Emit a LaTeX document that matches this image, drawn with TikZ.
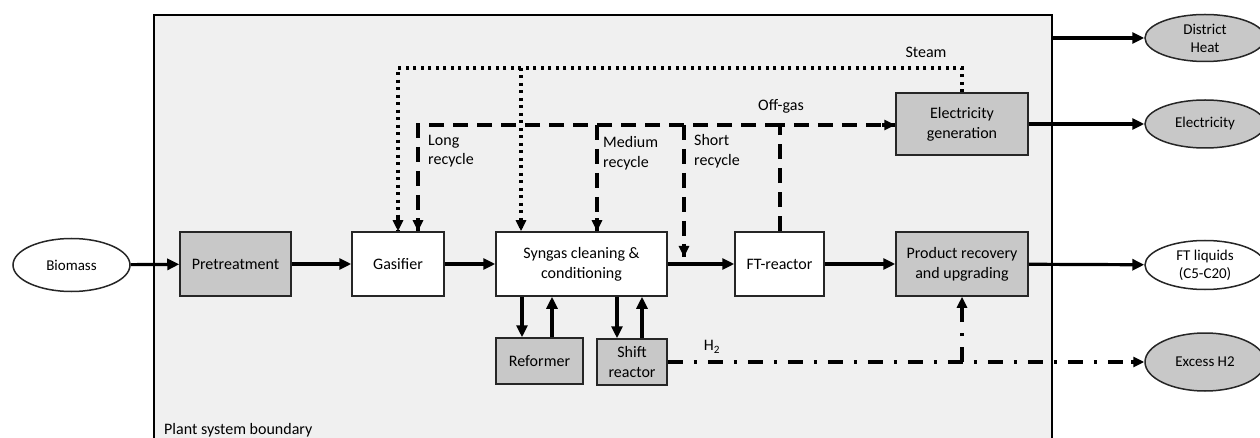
\documentclass[tikz,border=0pt]{standalone}
\usepackage{fontspec}
\setmainfont{Carlito}
\usetikzlibrary{arrows.meta,shapes.geometric}
\definecolor{bnd}{HTML}{F0F0F0}
\definecolor{boxgray}{HTML}{C8C8C8}
\tikzset{
  box/.style={draw=black!85,line width=1.5pt,fill=white,minimum height=64pt,inner sep=2pt,align=center,font=\fontsize{16}{20}\selectfont},
  graybox/.style={box,fill=boxgray},
  oval/.style={ellipse,draw=black!85,line width=1.5pt,fill=white,inner sep=0pt,minimum width=120pt,align=center,font=\fontsize{15}{18}\selectfont},
  lbl/.style={inner sep=0pt,align=left,font=\fontsize{16}{19.5}\selectfont},
  flow/.style={line width=3.2pt,-{Triangle[length=12pt,width=11pt]}},
  dotline/.style={line width=3.2pt,dash pattern=on 3pt off 4.5pt},
  dashline/.style={line width=3.2pt,dash pattern=on 15pt off 9pt},
  dashdot/.style={line width=3.2pt,dash pattern=on 15pt off 11pt on 3pt off 11pt},
  tip/.style={-{Triangle[length=11pt,width=10pt]},line width=3.2pt},
}
\begin{document}
\begin{tikzpicture}[x=1pt,y=-1pt]
\useasboundingbox (0,0) rectangle (1260,438);
% plant boundary
\draw[line width=2.5pt,fill=bnd] (154,15) rectangle (1052,450);
\node[lbl,anchor=west] (pslabel) at (164,430) {Plant system boundary};

% process boxes
\node[graybox,minimum width=111pt] (pre) at (235.5,264) {Pretreatment};
\node[box,minimum width=92pt] (gas) at (398,264) {Gasifier};
\node[box,minimum width=171pt] (syn) at (581.5,264) {Syngas cleaning \&\\conditioning};
\node[box,minimum width=89pt] (ft) at (779.5,264) {FT-reactor};
\node[graybox,minimum width=132pt] (prod) at (962,264) {Product recovery\\and upgrading};
\node[graybox,minimum width=87pt,minimum height=46pt] (ref) at (539.5,361) {Reformer};
\node[graybox,minimum width=70pt,minimum height=46pt] (shift) at (632,362) {Shift\\reactor};
\node[graybox,minimum width=132pt,minimum height=62pt] (elec) at (962,124) {Electricity\\generation};

% external ellipses
\node[oval,minimum width=117pt,minimum height=53pt] (bio) at (71.5,265) {Biomass};
\node[oval,fill=boxgray,minimum height=47pt] (dh) at (1205,38) {District\\Heat};
\node[oval,fill=boxgray,minimum height=48pt] (el) at (1205,124) {Electricity};
\node[oval,minimum height=49pt] (ftl) at (1205,265) {FT liquids\\(C5-C20)};
\node[oval,fill=boxgray,minimum height=58pt] (xh) at (1205,362) {Excess H2};

% main flow
\draw[flow] (bio) -- (pre);
\draw[flow] (pre) -- (gas);
\draw[flow] (gas) -- (syn);
\draw[flow] (syn) -- (ft);
\draw[flow] (ft) -- (prod);
\draw[flow] (prod) -- (ftl);
\draw[flow] (elec) -- (el);
\coordinate (dhstart) at (1052,38);
\draw[flow] (dhstart) -- (dh);

% reformer / shift loops
\draw[flow] (syn.south -| 522,0) -- (ref.north -| 522,0);
\draw[flow] (ref.north -| 552,0) -- (syn.south -| 552,0);
\draw[flow] (syn.south -| 617,0) -- (shift.north -| 617,0);
\draw[flow] (shift.north -| 642,0) -- (syn.south -| 642,0);

% steam (dotted)
\coordinate (stc) at (962,68);
\draw[dotline] (elec.north) -- (stc) -- (398,68) -- (gas.north -| 398,0);
\draw[dotline] (521,68) -- (syn.north -| 521,0);
\draw[tip] (gas.north -| 398,0) ++(0,-13) -- (gas.north -| 398,0);
\draw[tip] (syn.north -| 521,0) ++(0,-13) -- (syn.north -| 521,0);
\node[lbl] (steam) at (926,52) {Steam};

% off-gas (dashed)
\coordinate (ogc) at (780,125);
\coordinate (srend) at (684,257);
\draw[dashline] (ft.north -| 780,0) -- (ogc) -- (elec.west |- ogc);
\draw[dashline] (ogc) -- (418,125) -- (gas.north -| 418,0);
\draw[dashline] (597,125) -- (syn.north -| 597,0);
\draw[dashline] (684,125) -- (srend);
\draw[tip] (elec.west |- ogc) ++(-13,0) -- (elec.west |- ogc);
\draw[tip] (gas.north -| 418,0) ++(0,-13) -- (gas.north -| 418,0);
\draw[tip] (syn.north -| 597,0) ++(0,-13) -- (syn.north -| 597,0);
\draw[tip] (srend) ++(0,-13) -- (srend);
\node[lbl] (offgas) at (781,106) {Off-gas};
\node[lbl,anchor=west] (longr) at (428,151) {Long\\recycle};
\node[lbl,anchor=west] (medr) at (603,153) {Medium\\recycle};
\node[lbl,anchor=west] (shortr) at (694,151) {Short\\recycle};

% hydrogen (dash-dot)
\coordinate (h2c) at (962,362);
\draw[dashdot] (shift.east) -- (h2c) -- (xh.west);
\draw[dashdot] (h2c) -- (prod.south);
\draw[tip] (prod.south) ++(0,14) -- (prod.south);
\draw[tip] (xh.west) ++(-13,0) -- (xh.west);
\node[lbl] (h2) at (712,347) {H\textsubscript{2}};
\end{tikzpicture}
\end{document}
